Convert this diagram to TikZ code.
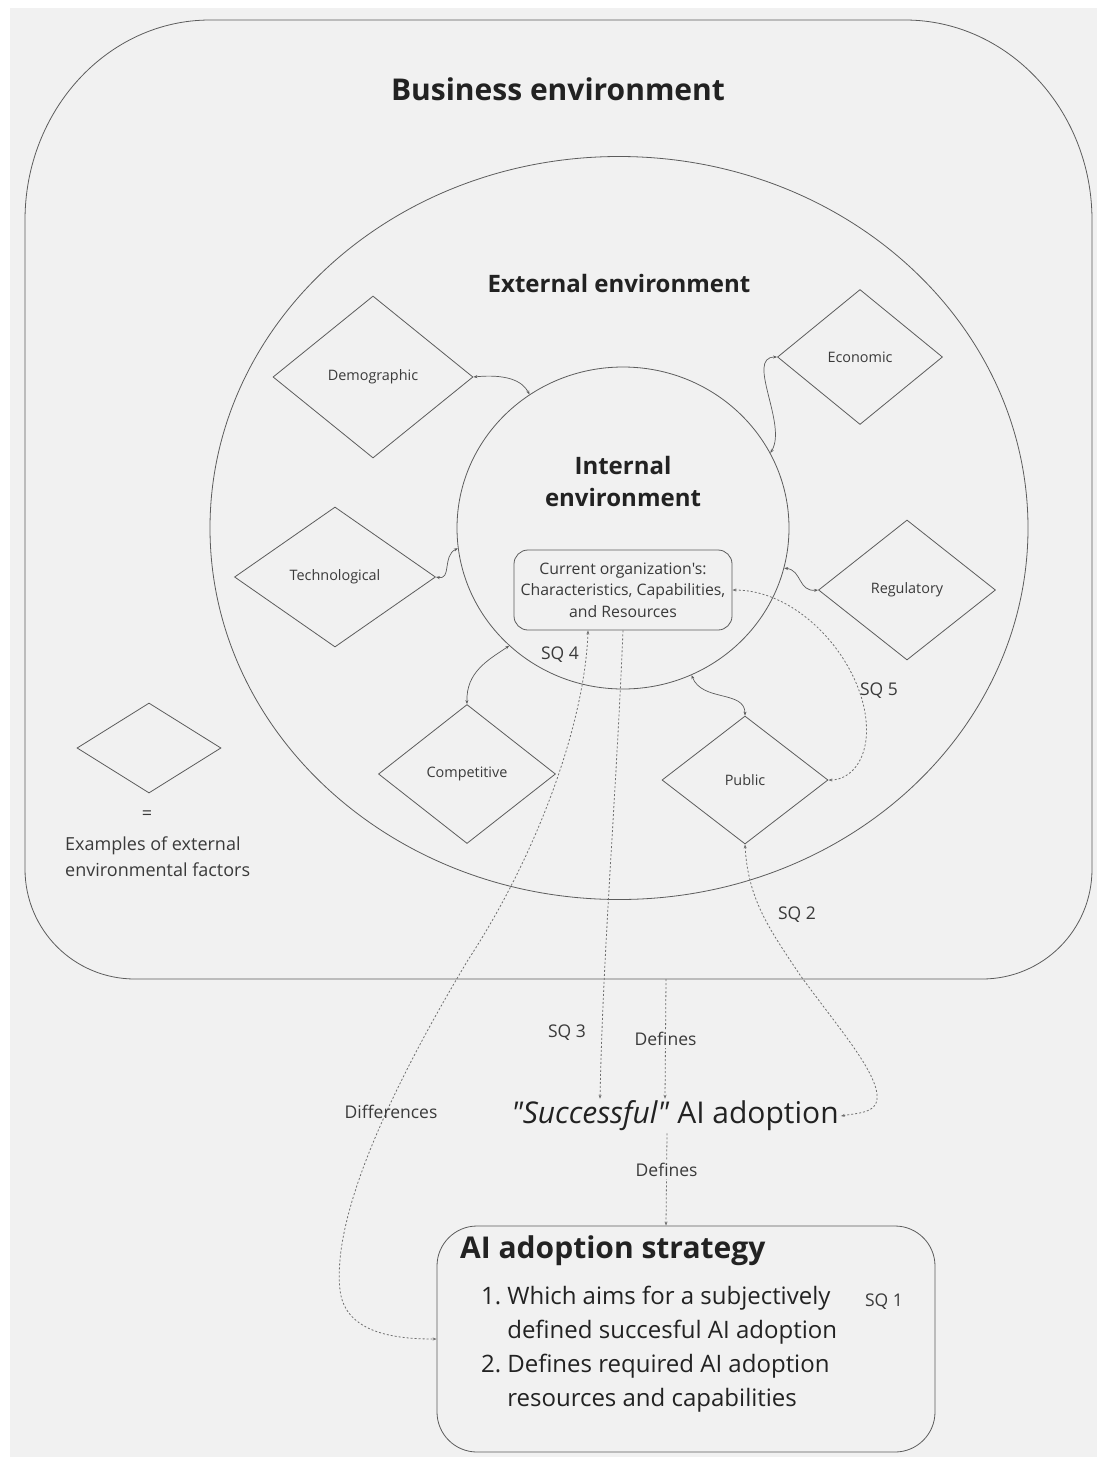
\documentclass[tikz,border=0pt]{standalone}
\usepackage{fontspec}
\setmainfont{Open Sans}[Ligatures=TeXOff]
\usetikzlibrary{shapes.geometric,arrows.meta,calc}
\definecolor{bgc}{HTML}{F1F1F1}
\definecolor{linec}{HTML}{5C5C5C}
\definecolor{dotc}{HTML}{707070}
\definecolor{txt}{HTML}{222222}
\definecolor{lbl}{HTML}{3A3A3A}

\begin{document}
\begin{tikzpicture}[x=1pt,y=-1pt,
  shapeline/.style={draw=linec,line width=0.8pt},
  factor/.style={diamond,shapeline,inner sep=0pt,font=\fontsize{14.4}{17}\selectfont,text=lbl},
  twoway/.style={draw=linec,line width=0.7pt,{Stealth[length=4pt,width=3pt]}-{Stealth[length=4pt,width=3pt]}},
  dotlink/.style={draw=dotc,line width=0.8pt,dash pattern=on 2pt off 2pt},
  headend/.style={-{Stealth[length=4pt,width=3pt]}},
  headboth/.style={{Stealth[length=4pt,width=3pt]}-{Stealth[length=4pt,width=3pt]}},
  sqlabel/.style={font=\fontsize{17.5}{20}\selectfont,text=lbl},
]
\useasboundingbox (0,0) rectangle (1099,1457);
\fill[bgc] (10,8) rectangle (1097,1457);

% business environment frame
\draw[shapeline]
  (210,20) -- (905,20)
  .. controls (1008,20) and (1092,110) .. (1092,220)
  -- (1092,869)
  .. controls (1092,930) and (1043,979) .. (982,979)
  -- (135,979)
  .. controls (74,979) and (25,930) .. (25,869)
  -- (25,220)
  .. controls (25,110) and (108,20) .. (210,20);
\coordinate (bizB) at (666,979);
\node[font=\bfseries\fontsize{30}{34}\selectfont,text=txt] (biztitle) at (558,89) {Business environment};

% external environment
\node[ellipse,shapeline,minimum width=818,minimum height=743,inner sep=0pt] (ext) at (619,528) {};
\node[font=\bfseries\fontsize{24}{28}\selectfont,text=txt] (exttitle) at (619,283) {External environment};

% internal environment
\node[ellipse,shapeline,minimum width=332,minimum height=322,inner sep=0pt] (int) at (623,528) {};
\node[font=\bfseries\fontsize{24}{32}\selectfont,text=txt,align=center] (inttitle) at (623,481) {Internal\\environment};
\node[shapeline,rounded corners=14pt,minimum width=218,minimum height=80,inner sep=2pt,align=center,
      font=\fontsize{15.8}{21.5}\selectfont,text=lbl] (org) at (623,590)
  {Current organization's:\\Characteristics, Capabilities,\\and Resources};

% external factors
\node[factor,minimum width=200,minimum height=162] (dem)  at (373,377) {\raisebox{-2pt}{Demographic}};
\node[factor,minimum width=201,minimum height=140] (tech) at (335,577) {\raisebox{-2pt}{Technological}};
\node[factor,minimum width=165,minimum height=135] (eco)  at (860,357) {\raisebox{-1pt}{Economic}};
\node[factor,minimum width=177,minimum height=140] (reg)  at (907,590) {\raisebox{-2pt}{Regulatory}};
\node[factor,minimum width=177,minimum height=139] (comp) at (467,774) {\raisebox{-1pt}{Competitive}};
\node[factor,minimum width=166,minimum height=128] (pub)  at (745,780) {Public};

% legend
\node[diamond,shapeline,inner sep=0pt,minimum width=144,minimum height=90] (legend) at (149,748) {};
\node[font=\fontsize{18}{20}\selectfont,text=lbl] (eq) at (147,815) {=};
\node[font=\fontsize{18}{26}\selectfont,text=lbl,align=left,anchor=west,inner sep=0pt] (legtext) at (65,857)
  {Examples of external\\environmental factors};

% interactions between factors and the organisation
\draw[twoway] (dem.east) .. controls (505,374) and (522,380) .. (int.125);
\draw[twoway] (tech.east) .. controls (452,580) and (442,556) .. (int.187.5);
\draw[twoway] (eco.west) .. controls (745,357) and (788,425) .. (int.27.6);
\draw[twoway] (reg.west) .. controls (798,592) and (802,570) .. (int.346);
\draw[twoway] (comp.north) .. controls (466,672) and (488,660) .. (int.226);
\draw[twoway] (int.295) .. controls (702,702) and (745,690) .. (pub.north);

% outcome and strategy
\node[font=\fontsize{30}{34}\selectfont,text=txt,inner sep=2pt] (succ) at (675,1116)
  {\textit{"Successful"} AI adoption};
\node[shapeline,rounded corners=40pt,minimum width=498,minimum height=226] (strat) at (686,1339) {};
\node[font=\bfseries\fontsize{30}{34}\selectfont,text=txt,anchor=west,inner sep=0pt] (strattitle) at (460,1251) {AI adoption strategy};
\node[font=\fontsize{24}{34}\selectfont,text=txt,anchor=north west,inner sep=0pt] (stratlist) at (481,1280)
  {\begin{tabular}{@{}r@{\hspace{6pt}}l@{}}
    1. & Which aims for a subjectively\\
       & defined succesful AI adoption\\
    2. & Defines required AI adoption\\
       & resources and capabilities
  \end{tabular}};
\node[sqlabel] (sq1) at (884,1302) {SQ 1};

% research sub-questions
\draw[dotlink,headboth] ($(org.south)+(-35,0)$)
  .. controls (585,720) and (540,850) .. (468,960)
  .. controls (420,1040) and (330,1200) .. (340,1290)
  .. controls (345,1335) and (400,1339) .. (strat.west);
\node[sqlabel] (sq4) at (560,655) {SQ 4};
\node[sqlabel] (diff) at (391,1112) {Differences};

\draw[dotlink,headend] (org.south) .. controls (616,800) and (603,950) .. ($(succ.north)+(-75,0)$);
\node[sqlabel] (sq3) at (567,1033) {SQ 3};

\draw[dotlink,headend] (bizB) -- node[sqlabel,fill=bgc,inner sep=2pt] (def1) {Defines} ($(succ.north)+(-10,0)$);
\draw[dotlink,headend] ($(succ.south)+(-8,0)$) -- node[pos=0.4,sqlabel,fill=bgc,inner sep=2pt] (def2) {Defines} ($(strat.north)+(-20,0)$);

\draw[dotlink,headboth] (pub.south)
  .. controls (748,900) and (770,930) .. (800,975)
  .. controls (840,1030) and (880,1075) .. (877,1100)
  .. controls (875,1113) and (858,1113) .. (succ.east);
\node[sqlabel] (sq2) at (797,915) {SQ 2};

\draw[dotlink,headboth] (org.east)
  .. controls (800,590) and (860,660) .. (866,720)
  .. controls (870,760) and (850,780) .. (pub.east);
\node[sqlabel] (sq5) at (879,691) {SQ 5};
\end{tikzpicture}
\end{document}
